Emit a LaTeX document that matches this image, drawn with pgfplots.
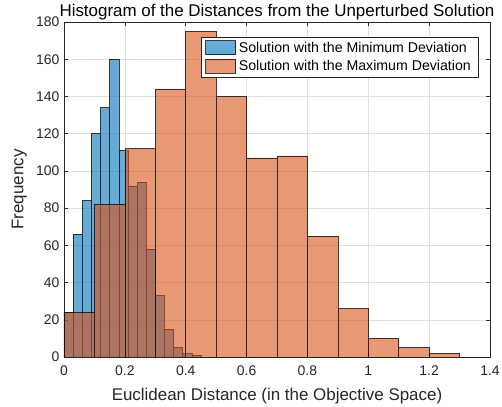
\documentclass[border=0pt]{standalone}
\usepackage{pgfplots}
\pgfplotsset{compat=1.18}
\usepackage{fontspec}
\setmainfont{Liberation Sans}
\definecolor{mblue}{RGB}{0,114,189}
\definecolor{morange}{RGB}{217,83,25}
\definecolor{axgray}{RGB}{38,38,38}
\begin{document}
\begin{tikzpicture}
\useasboundingbox (-64bp,-50bp) rectangle (438bp,357bp);
\begin{axis}[
  scale only axis,
  width=426bp, height=335bp,
  xmin=0, xmax=1.4, ymin=0, ymax=180,
  xtick={0,0.2,...,1.4}, ytick={0,20,...,180},
  xticklabels={0,0.2,0.4,0.6,0.8,1,1.2,1.4},
  /pgf/number format/assume math mode=true,
  tick label style={font=\fontsize{14}{16}\selectfont, text=axgray},
  xticklabel style={yshift=-5bp},
  yticklabel style={xshift=-1bp},
  tick align=inside, tick pos=both,
  major tick length=4bp,
  axis line style={axgray, line width=0.5bp},
  every tick/.style={axgray, line width=0.5bp},
  grid=major,
  grid style={black!12, line width=0.5bp},
  title={Histogram of the Distances from the Unperturbed Solution},
  title style={at={(axis description cs:0.5,1)}, anchor=base, yshift=0bp, font=\fontsize{17}{19}\selectfont},
  xlabel={Euclidean Distance (in the Objective Space)},
  xlabel style={at={(axis description cs:0.5,-0.13)}, anchor=base, font=\fontsize{17}{19}\selectfont, text=axgray},
  ylabel={Frequency},
  ylabel style={at={(axis description cs:-0.105,0.5)}, anchor=center, font=\fontsize{17}{19}\selectfont, text=axgray},
  legend style={at={(axis description cs:0.972,0.955)}, anchor=north east,
     draw=axgray, line width=0.5bp, fill=white,
     font=\fontsize{14.2}{16}\selectfont, inner xsep=4bp, inner ysep=2.5bp,
     row sep=3bp, nodes={inner xsep=3bp}},
  legend cell align=left,
  legend image code/.code={\draw[#1, line width=0.5bp] (0bp,-7bp) rectangle (30bp,7bp);},
]
\addplot[ybar interval, fill=mblue, fill opacity=0.6, draw=black, draw opacity=0.75, line width=0.5bp]
coordinates {
(0,24) (0.03,66) (0.06,84) (0.09,120) (0.12,134) (0.15,160) (0.18,111)
(0.21,92) (0.24,94) (0.27,58) (0.30,33) (0.33,15) (0.36,5) (0.39,2) (0.42,1) (0.45,0)
};
\addlegendentry{Solution with the Minimum Deviation}
\addplot[ybar interval, fill=morange, fill opacity=0.6, draw=black, draw opacity=0.75, line width=0.5bp]
coordinates {
(0,24) (0.1,82) (0.2,112) (0.3,144) (0.4,175) (0.5,140) (0.6,107) (0.7,108)
(0.8,65) (0.9,26) (1.0,10) (1.1,5) (1.2,2) (1.3,0)
};
\addlegendentry{Solution with the Maximum Deviation}
\end{axis}
\end{tikzpicture}
\end{document}
